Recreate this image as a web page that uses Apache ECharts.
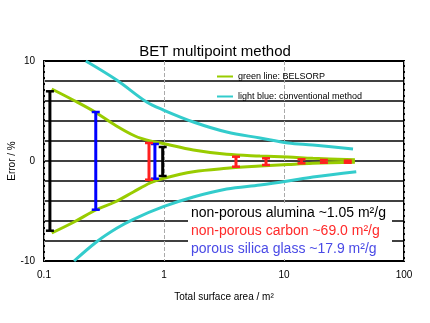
<!DOCTYPE html>
<html><head><meta charset="utf-8">
<script src="https://cdn.jsdelivr.net/npm/echarts@6/dist/echarts.min.js"></script>
<style>html,body{margin:0;padding:0;background:#fff}#c{width:430px;height:323px}</style>
</head><body><div id="c"></div>
<script>
var xTicks = [0.1, 1, 10, 100];
var yTicks = [-10, 0, 10];

var greenName = 'green line: BELSORP';
var cyanName = 'light blue: conventional method';

var greenUpper = [[0.116,7.2],[0.178,6.05],[0.266,4.9],[0.39,3.6],[0.573,2.5],[0.765,2.0],[0.98,1.75],[1.756,1.1],[3.33,0.67],[6.31,0.5],[10.8,0.4],[17.4,0.27],[39,0.12]];
var greenLower = [[0.116,-7.2],[0.178,-6.1],[0.27,-4.9],[0.39,-4.1],[0.555,-3.1],[0.765,-2.2],[0.98,-1.75],[1.756,-1.07],[3.33,-0.73],[6.31,-0.5],[10.8,-0.35],[17.4,-0.23],[39,-0.13]];
var cyanUpper = [[0.223,10],[0.403,8.1],[0.717,5.9],[0.987,5.1],[1.756,3.9],[3.33,2.9],[6.31,2.3],[10.8,1.8],[17.4,1.6],[37.6,1.2]];
var cyanLower = [[0.178,-10],[0.275,-8.07],[0.403,-6.73],[0.555,-5.83],[0.987,-4.57],[1.756,-3.6],[3.33,-2.8],[6.31,-2.4],[10.8,-2.0],[17.4,-1.6],[40,-1.07]];

var blackBarX = [0.112, 0.975];
var blackBarLow = [-6.97, -1.5];
var blackBarHigh = [6.97, 1.4];
var blueBarX = [0.27, 0.84];
var blueBarLow = [-4.87, -1.77];
var blueBarHigh = [4.9, 1.7];
var redBarX = [0.75, 3.98, 7.08, 14, 21.5, 34];
var redBarLow = [-1.87, -0.57, -0.4, -0.23, -0.17, -0.17];
var redBarHigh = [1.8, 0.43, 0.27, 0.17, 0.1, 0.03];

var notes = ['non-porous alumina ~1.05 m²/g', 'non-porous carbon ~69.0 m²/g', 'porous silica glass ~17.9 m²/g'];
var noteColors = ['#000000', '#ff2a2a', '#4a4ae6'];

var FONT = 'Liberation Sans';

function barData(xs, lo, hi) {
  return xs.map(function (x, i) { return [x, lo[i], hi[i]]; });
}
function makeBars(name, xs, lo, hi, color) {
  return {
    type: 'custom', name: name, z: 5,
    data: barData(xs, lo, hi),
    encode: { x: 0, y: [1, 2] },
    renderItem: function (params, api) {
      var x = api.value(0);
      var p1 = api.coord([x, api.value(1)]);
      var p2 = api.coord([x, api.value(2)]);
      var hw = 4;
      return {
        type: 'group',
        children: [
          { type: 'line', shape: { x1: p1[0], y1: p1[1], x2: p2[0], y2: p2[1] }, style: { stroke: color, lineWidth: 3 } },
          { type: 'line', shape: { x1: p1[0] - hw, y1: p1[1], x2: p1[0] + hw, y2: p1[1] }, style: { stroke: color, lineWidth: 2.5 } },
          { type: 'line', shape: { x1: p2[0] - hw, y1: p2[1], x2: p2[0] + hw, y2: p2[1] }, style: { stroke: color, lineWidth: 2.5 } }
        ]
      };
    }
  };
}
function curve(name, data, color) {
  return { type: 'line', name: name, data: data, smooth: 0.35, symbol: 'none', z: 3,
    lineStyle: { color: color, width: 3 }, itemStyle: { color: color } };
}

var chart = echarts.init(document.getElementById('c'), null, { renderer: 'canvas' });
var noteGraphics = [{ type: 'rect', left: 188, top: 204, shape: { width: 204, height: 55 }, style: { fill: '#fff' }, z: 10 }];
notes.forEach(function (t, i) {
  noteGraphics.push({ type: 'text', left: 191, top: 206 + i * 18, z: 11,
    style: { text: t, fill: noteColors[i], font: '14px "' + FONT + '"' } });
});

chart.setOption({
  animation: false,
  title: { text: 'BET multipoint method', left: 'center', top: 39,
    textStyle: { fontFamily: FONT, fontSize: 15, fontWeight: 'normal', color: '#000' } },
  grid: { left: 44, right: 26, top: 61, bottom: 62, show: true, borderColor: '#000', borderWidth: 2,
    backgroundColor: 'transparent', containLabel: false, outerBoundsMode: 'none' },
  legend: [
    { data: [greenName], left: 212, top: 67, icon: 'rect', itemWidth: 16, itemHeight: 2, itemGap: 6,
      textStyle: { fontFamily: FONT, fontSize: 9, color: '#000' } },
    { data: [cyanName], left: 212, top: 87, icon: 'rect', itemWidth: 16, itemHeight: 2, itemGap: 6,
      textStyle: { fontFamily: FONT, fontSize: 9, color: '#000' } }
  ],
  xAxis: {
    type: 'log', min: xTicks[0], max: xTicks[xTicks.length - 1], logBase: 10,
    name: 'Total surface area / m²', nameLocation: 'middle', nameGap: 31, nameMoveOverlap: false,
    nameTextStyle: { fontFamily: FONT, fontSize: 10, color: '#000' },
    axisLine: { show: false }, axisTick: { show: false },
    axisLabel: { fontFamily: FONT, fontSize: 10, color: '#000', margin: 9,
      formatter: function (v) { return xTicks.indexOf(+v) >= 0 ? String(v) : ''; } },
    splitLine: { show: true, lineStyle: { color: '#aaa', type: 'dashed', width: 1 } }
  },
  yAxis: {
    type: 'value', min: -10, max: 10, interval: 2,
    name: 'Error / %', nameLocation: 'middle', nameGap: 27, nameMoveOverlap: false,
    nameTextStyle: { fontFamily: FONT, fontSize: 10, color: '#000' },
    axisLine: { show: false }, axisTick: { show: false },
    axisLabel: { fontFamily: FONT, fontSize: 10, color: '#000', margin: 9,
      formatter: function (v) { return yTicks.indexOf(v) >= 0 ? String(v) : ''; } },
    splitLine: { show: true, lineStyle: { color: '#000', width: 1.5 } }
  },
  graphic: noteGraphics,
  series: [
    curve(cyanName, cyanUpper, '#33cccc'),
    curve(cyanName, cyanLower, '#33cccc'),
    curve(greenName, greenUpper, '#99cc00'),
    curve(greenName, greenLower, '#99cc00'),
    makeBars('black', blackBarX, blackBarLow, blackBarHigh, '#000000'),
    makeBars('blue', blueBarX, blueBarLow, blueBarHigh, '#0000ff'),
    makeBars('red', redBarX, redBarLow, redBarHigh, '#ff2020')
  ]
});
</script></body></html>
